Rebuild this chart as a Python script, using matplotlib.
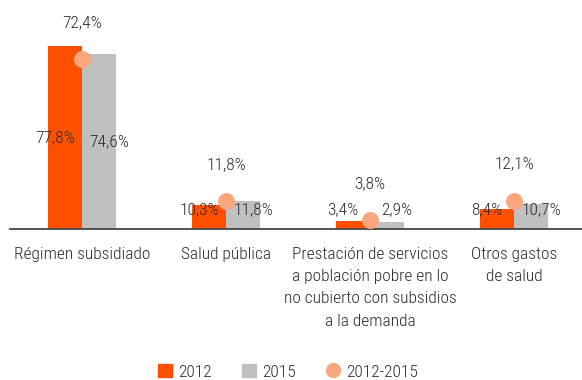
import matplotlib.pyplot as plt
from matplotlib.patches import Patch
from matplotlib.lines import Line2D
import numpy as np

# Gasto en salud por componente
categorias = ["Régimen subsidiado", "Salud pública",
              "Prestación de servicios\na población pobre en lo\nno cubierto con subsidios\na la demanda",
              "Otros gastos\nde salud"]
valores_2012 = [77.8, 10.3, 3.4, 8.4]
valores_2015 = [74.6, 11.8, 2.9, 10.7]
variacion = [72.4, 11.8, 3.8, 12.1]

naranja = "#FF5000"
gris = "#C0C0C0"
salmon = "#FBA67E"
texto = "#2b2b2b"

plt.rcParams['font.family'] = ['Roboto Condensed', 'DejaVu Sans']
plt.rcParams['font.weight'] = 'light'
plt.rcParams['font.size'] = 12.5

fig = plt.figure(figsize=(5.82, 3.8), dpi=100)
ax = fig.add_axes([10 / 582, 151 / 380, 576 / 582, 229 / 380])

x = np.arange(len(categorias))
ancho = 0.236

ax.bar(x - ancho / 2, valores_2012, ancho, color=naranja, zorder=2)
ax.bar(x + ancho / 2, valores_2015, ancho, color=gris, zorder=2)
ax.scatter(x, variacion, s=150, color=salmon, zorder=3, linewidths=0)

# etiquetas de las barras: a media altura, con un minimo para barras bajas
for xi, v in zip(x, valores_2012):
    ax.text(xi - ancho / 2 - 0.07, max(v / 2, 8), f"{v:.1f}%".replace(".", ","),
            ha="center", va="center", color=texto, zorder=4)
for xi, v in zip(x, valores_2015):
    ax.text(xi + ancho / 2 + 0.07, max(v / 2, 8), f"{v:.1f}%".replace(".", ","),
            ha="center", va="center", color=texto, zorder=4)
for xi, v in zip(x, variacion):
    ax.text(xi, v + 15.5, f"{v:.1f}%".replace(".", ","),
            ha="center", va="center", color=texto, zorder=4)

ax.set_xlim(-0.5, 3.5)
ax.set_ylim(0, 97.4)
ax.set_yticks([])
ax.set_xticks(x)
ax.set_xticklabels(categorias, color=texto, linespacing=1.6, va="top")
ax.tick_params(axis="x", length=0, pad=13)
for lado in ["top", "right", "left"]:
    ax.spines[lado].set_visible(False)
ax.spines["bottom"].set_color("#444444")
ax.spines["bottom"].set_linewidth(1.3)
ax.patch.set_alpha(0)

handles = [Patch(color=naranja, label="2012"),
           Patch(color=gris, label="2015"),
           Line2D([], [], marker="o", linestyle="", markersize=11,
                  markerfacecolor=salmon, markeredgewidth=0, label="2012-2015")]
leg = fig.legend(handles=handles, loc="lower center", ncol=3, frameon=False,
                 bbox_to_anchor=(0.495, -0.04), handlelength=0.85, handleheight=0.85,
                 handletextpad=0.35, columnspacing=1.7)
for t in leg.get_texts():
    t.set_color(texto)

fig.savefig("out.png", dpi=100)
